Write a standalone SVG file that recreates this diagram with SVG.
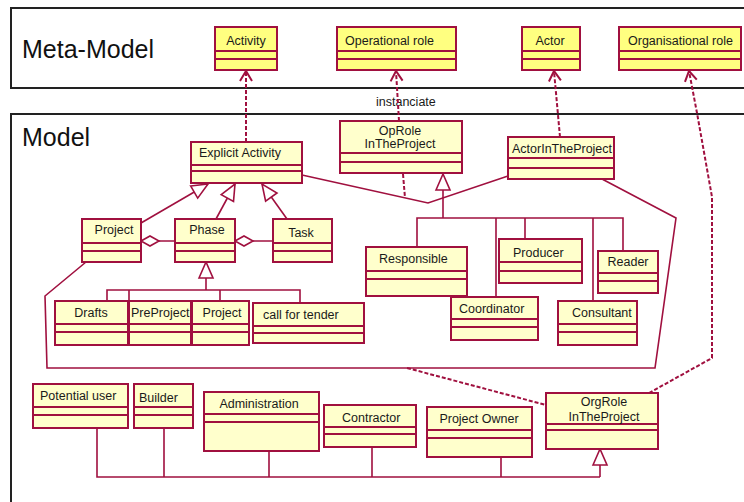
<svg xmlns="http://www.w3.org/2000/svg" width="744" height="502" viewBox="0 0 744 502">
<style>
.frame{fill:#fff;stroke:#222;stroke-width:2}
.ft{font-family:"Liberation Sans",Arial,sans-serif;font-size:25px;fill:#111}
.cm{fill:#ffff80;stroke:#a0103f;stroke-width:2}
.cl{fill:#ffffcc;stroke:#a0103f;stroke-width:2}
.dv{stroke:#a0103f;stroke-width:2;fill:none}
.t{font-family:"Liberation Sans",Arial,sans-serif;font-size:12.5px;fill:#1a1a1a}
.c{text-anchor:middle}
.ln{fill:none;stroke:#a0103f;stroke-width:1.6}
.ds{fill:none;stroke:#a0103f;stroke-width:2;stroke-dasharray:4,2}
</style>
<defs>
<marker id="gen" markerUnits="userSpaceOnUse" markerWidth="20" markerHeight="20" refX="16" refY="8" orient="auto" overflow="visible">
<path d="M0,1 L16,8 L0,15 Z" fill="#fff" stroke="#a0103f" stroke-width="1.6"/>
</marker>
<marker id="open" markerUnits="userSpaceOnUse" markerWidth="14" markerHeight="14" refX="10" refY="6" orient="auto" overflow="visible">
<path d="M0,0 L10,6 L0,12" fill="none" stroke="#a0103f" stroke-width="2"/>
</marker>
<marker id="dia" markerUnits="userSpaceOnUse" markerWidth="20" markerHeight="12" refX="0" refY="5" orient="auto" overflow="visible">
<path d="M0,5 L9,0 L18,5 L9,10 Z" fill="#fff" stroke="#a0103f" stroke-width="1.6"/>
</marker>
</defs>

<g id="frame-meta"><rect class="frame" x="11" y="8" width="740" height="80"/><text class="ft" x="22" y="58">Meta-Model</text></g>
<text class="t" x="376" y="106">instanciate</text>
<g id="frame-model"><rect class="frame" x="11" y="114" width="740" height="400"/><text class="ft" x="22" y="146">Model</text></g>

<g id="connectors">
<path class="ds" d="M246,142 V71" marker-end="url(#open)"/>
<path class="ds" d="M399,121 L396,71" marker-end="url(#open)"/>
<path class="ds" d="M560,137 L554,71" marker-end="url(#open)"/>
<path class="ds" d="M649,393 L712,358 V197 L697,113 L689,71" marker-end="url(#open)"/>
<path class="ds" d="M403,174 L405,198"/>
<path class="ds" d="M407,368 L546,405"/>
<path class="ln" d="M302,175 L428,203 L508,176"/>
<path class="ln" d="M602,179 L676,218 L655,368 H47 L45,296 L86,262"/>
<path class="ln" d="M141,223 L208,184" marker-end="url(#gen)"/>
<path class="ln" d="M216,219 L235,184" marker-end="url(#gen)"/>
<path class="ln" d="M287,219 L262,184" marker-end="url(#gen)"/>
<path class="ln" d="M141,241 H175" marker-start="url(#dia)"/>
<path class="ln" d="M235,241 H273" marker-start="url(#dia)"/>
<path class="ln" d="M107,301 V290 H300 V303 M129,290 V301 M220,290 V301"/>
<path class="ln" d="M206,290 V262" marker-end="url(#gen)"/>
<path class="ln" d="M417,247 V218 H623 V251 M496,218 V297 M525,218 V239 M593,218 V301"/>
<path class="ln" d="M443,218 V174" marker-end="url(#gen)"/>
<path class="ln" d="M97,428 V477 H600 M164,428 V477 M269,451 V477 M372,447 V477 M501,457 V477"/>
<path class="ln" d="M600,477 V449" marker-end="url(#gen)"/>
</g>

<g id="activity"><rect class="cm" x="215" y="27" width="62" height="43"/><path class="dv" d="M215,51 H277 M215,59 H277"/><text class="t c" x="246" y="45">Activity</text></g>
<g id="operational-role"><rect class="cm" x="337" y="27" width="119" height="43"/><path class="dv" d="M337,51 H456 M337,59 H456"/><text class="t" x="345" y="45">Operational role</text></g>
<g id="actor"><rect class="cm" x="522" y="27" width="58" height="43"/><path class="dv" d="M522,51 H580 M522,59 H580"/><text class="t c" x="550" y="45">Actor</text></g>
<g id="organisational-role"><rect class="cm" x="619" y="27" width="122" height="43"/><path class="dv" d="M619,51 H741 M619,59 H741"/><text class="t" x="628" y="45">Organisational role</text></g>

<g id="oprole"><rect class="cl" x="340" y="121" width="122" height="52"/><path class="dv" d="M340,153 H462 M340,162 H462"/><text class="t c" x="400" y="135">OpRole</text><text class="t c" x="400" y="148">InTheProject</text></g>
<g id="actor-in-project"><rect class="cl" x="508" y="137" width="106" height="42"/><path class="dv" d="M508,158 H614 M508,168 H614"/><text class="t" x="512" y="153">ActorInTheProject</text></g>
<g id="explicit-activity"><rect class="cl" x="191" y="142" width="111" height="41"/><path class="dv" d="M191,165 H302 M191,171 H302"/><text class="t" x="199" y="157">Explicit Activity</text></g>
<g id="project"><rect class="cl" x="82" y="219" width="59" height="43"/><path class="dv" d="M82,243 H141 M82,251 H141"/><text class="t c" x="114" y="234">Project</text></g>
<g id="phase"><rect class="cl" x="175" y="219" width="60" height="43"/><path class="dv" d="M175,243 H235 M175,251 H235"/><text class="t c" x="207" y="234">Phase</text></g>
<g id="task"><rect class="cl" x="273" y="219" width="59" height="43"/><path class="dv" d="M273,243 H332 M273,251 H332"/><text class="t c" x="301" y="237">Task</text></g>
<g id="responsible"><rect class="cl" x="366" y="247" width="101" height="49"/><path class="dv" d="M366,271 H467 M366,279 H467"/><text class="t" x="379" y="263">Responsible</text></g>
<g id="producer"><rect class="cl" x="499" y="239" width="83" height="44"/><path class="dv" d="M499,262 H582 M499,271 H582"/><text class="t" x="513" y="257">Producer</text></g>
<g id="reader"><rect class="cl" x="598" y="251" width="60" height="42"/><path class="dv" d="M598,273 H658 M598,281 H658"/><text class="t c" x="628" y="266">Reader</text></g>
<g id="coordinator"><rect class="cl" x="451" y="297" width="87" height="43"/><path class="dv" d="M451,319 H538 M451,327 H538"/><text class="t" x="459" y="313">Coordinator</text></g>
<g id="consultant"><rect class="cl" x="558" y="301" width="79" height="44"/><path class="dv" d="M558,324 H637 M558,332 H637"/><text class="t" x="572" y="317">Consultant</text></g>
<g id="drafts"><rect class="cl" x="55" y="301" width="73" height="44"/><path class="dv" d="M55,324 H128 M55,332 H128"/><text class="t c" x="91" y="317">Drafts</text></g>
<g id="preproject"><rect class="cl" x="129" y="301" width="62" height="44"/><path class="dv" d="M129,324 H191 M129,332 H191"/><text class="t" x="131" y="317">PreProject</text></g>
<g id="project2"><rect class="cl" x="192" y="301" width="57" height="44"/><path class="dv" d="M192,324 H249 M192,332 H249"/><text class="t c" x="222" y="317">Project</text></g>
<g id="call-for-tender"><rect class="cl" x="253" y="303" width="111" height="40"/><path class="dv" d="M253,326 H364 M253,333 H364"/><text class="t" x="263" y="319">call for tender</text></g>
<g id="potential-user"><rect class="cl" x="33" y="384" width="95" height="44"/><path class="dv" d="M33,407 H128 M33,415 H128"/><text class="t" x="40" y="400">Potential user</text></g>
<g id="builder"><rect class="cl" x="134" y="384" width="59" height="44"/><path class="dv" d="M134,407 H193 M134,415 H193"/><text class="t" x="139" y="402">Builder</text></g>
<g id="administration"><rect class="cl" x="204" y="392" width="115" height="59"/><path class="dv" d="M204,414 H319 M204,422 H319"/><text class="t c" x="259" y="408">Administration</text></g>
<g id="contractor"><rect class="cl" x="324" y="405" width="92" height="42"/><path class="dv" d="M324,427 H416 M324,434 H416"/><text class="t" x="342" y="422">Contractor</text></g>
<g id="project-owner"><rect class="cl" x="427" y="407" width="105" height="50"/><path class="dv" d="M427,430 H532 M427,438 H532"/><text class="t c" x="479" y="423">Project Owner</text></g>
<g id="orgrole"><rect class="cl" x="546" y="393" width="112" height="56"/><path class="dv" d="M546,424 H658 M546,430 H658"/><text class="t c" x="604" y="406">OrgRole</text><text class="t c" x="604" y="421">InTheProject</text></g>
</svg>
